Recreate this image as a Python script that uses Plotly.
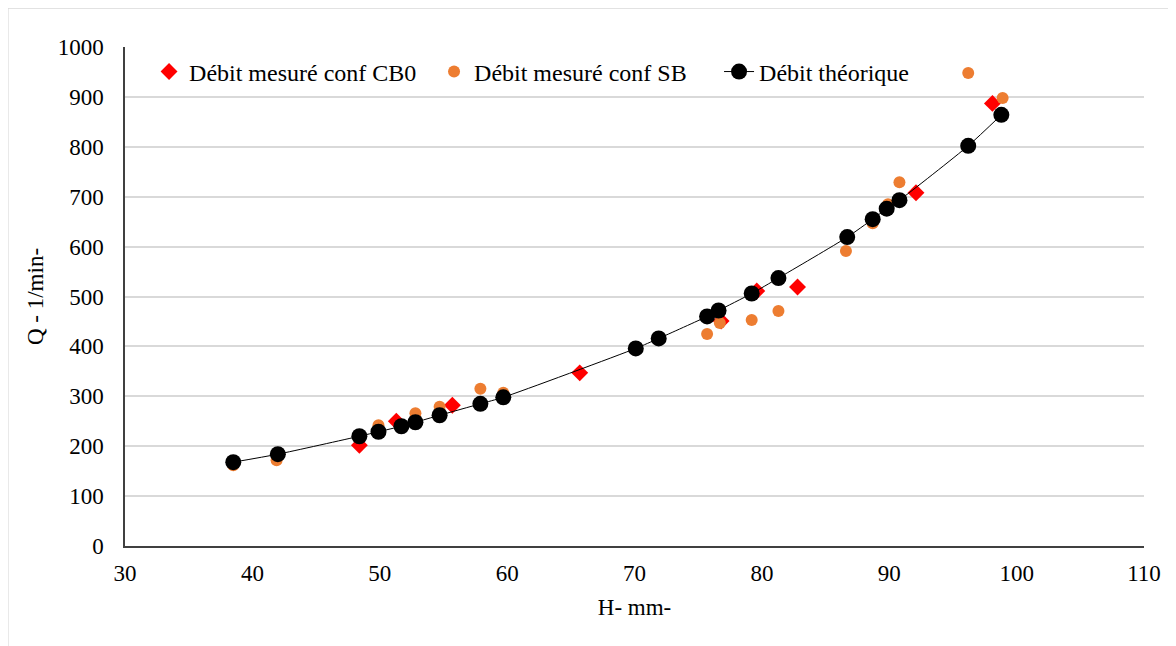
import plotly.graph_objects as go

# --- données ---
h_cb0 = [48.4, 51.3, 55.7, 65.7, 76.8, 79.6, 82.8, 92.1, 98.1]
q_cb0 = [202, 250, 282, 347, 451, 511, 519, 708, 887]

h_sb = [38.5, 41.9, 49.9, 52.8, 54.7, 57.9, 59.7, 75.7, 76.7, 79.2, 81.3,
        86.6, 88.7, 89.9, 90.8, 96.2, 98.9]
q_sb = [162, 172, 242, 266, 279, 315, 307, 425, 447, 453, 471,
        591, 647, 685, 729, 948, 898]

h_th = [38.5, 42.0, 48.4, 49.9, 51.7, 52.8, 54.7, 57.9, 59.7, 70.1, 71.9,
        75.7, 76.6, 79.2, 81.3, 86.7, 88.7, 89.8, 90.8, 96.2, 98.8]
q_th = [168, 184, 220, 229, 240, 248, 262, 285, 298, 396, 416,
        460, 472, 506, 537, 619, 655, 676, 693, 802, 864]

FONT = "Times New Roman, Liberation Serif, serif"

fig = go.Figure()

fig.add_trace(go.Scatter(
    x=h_cb0, y=q_cb0, mode="markers", name="Débit mesuré conf CB0",
    marker=dict(symbol="diamond", size=13, color="#ff0000"),
))
fig.add_trace(go.Scatter(
    x=h_sb, y=q_sb, mode="markers", name="Débit mesuré conf SB",
    marker=dict(symbol="circle", size=12, color="#ed7d31"),
))
fig.add_trace(go.Scatter(
    x=h_th, y=q_th, mode="lines+markers", name="Débit théorique",
    line=dict(color="#000000", width=1, shape="spline", smoothing=0.6),
    marker=dict(symbol="circle", size=16, color="#000000"),
))

# cadre gris clair du graphique
fig.add_shape(
    type="rect", xref="paper", yref="paper",
    x0=-0.115, x1=1.06, y0=-0.25, y1=1.078,
    line=dict(color="#d9d9d9", width=1.5), fillcolor="rgba(0,0,0,0)",
    layer="below",
)

# la page ajoute ~8 px de marge : on compense ici
fig.update_layout(
    width=1176, height=646,
    margin=dict(l=117, r=40, t=39, b=108),
    paper_bgcolor="white", plot_bgcolor="white",
    font=dict(family=FONT, size=23, color="#000000"),
    showlegend=True,
    legend=dict(
        orientation="h", x=0.0236, y=0.95, xanchor="left", yanchor="middle",
        bgcolor="rgba(255,255,255,0)", font=dict(size=24),
        entrywidth=240, entrywidthmode="pixels",
    ),
)

fig.update_xaxes(
    range=[30, 110], dtick=10, tick0=30,
    showgrid=False, zeroline=False, automargin=False,
    showline=True, linecolor="#404040", linewidth=1.5,
    ticks="", ticklabelstandoff=6,
    title=dict(text="H- mm-", standoff=14, font=dict(size=23)),
)
fig.update_yaxes(
    range=[0, 1000], dtick=100,
    showgrid=True, gridcolor="#d9d9d9", gridwidth=1.5, zeroline=False,
    automargin=False,
    showline=True, linecolor="#404040", linewidth=1.5,
    ticks="", ticklabelstandoff=15,
    title=dict(text="Q - 1/min-", standoff=8, font=dict(size=23)),
)

fig.write_html("out.html")
